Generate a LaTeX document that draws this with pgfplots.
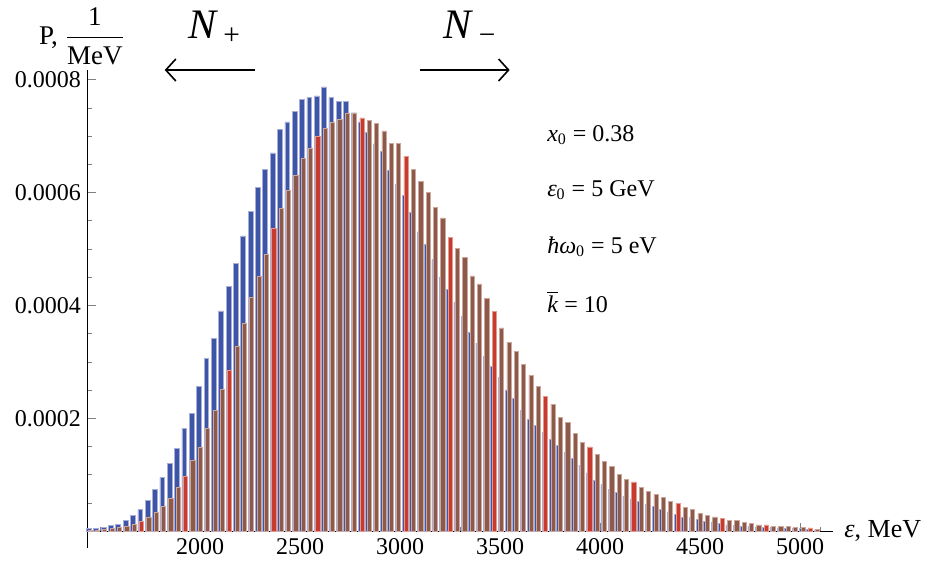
\documentclass[border=0pt]{standalone}
\usepackage{fontspec}
\setmainfont{Liberation Serif}
\usepackage{amsmath}
\usepackage{pgfplots}
\usepackage{pgfplotstable}
\pgfplotsset{compat=1.18}
\usetikzlibrary{arrows.meta}
\definecolor{cblue}{HTML}{3C55A6}
\definecolor{cblueE}{HTML}{A9AED8}
\definecolor{cbrown}{HTML}{8C5A4B}
\definecolor{cbrownE}{HTML}{CDA79C}
\definecolor{cred}{HTML}{C93A2E}
\definecolor{credE}{HTML}{E39A8C}

% E (MeV), blue P, red P, pure = red bar not covered by blue in the render
\pgfplotstableread{
E B R pure
1450.0 0.000004 0.0000005 0
1486.8 0.000004 0.000001 0
1523.5 0.0000065 0.000003 0
1560.3 0.0000095 0.000004 0
1597.0 0.000012 0.000007 0
1633.8 0.0000195 0.000009 0
1670.5 0.000028 0.000012 0
1707.3 0.000038 0.0000165 1
1744.0 0.000055 0.000025 0
1780.8 0.000074 0.000034 0
1817.5 0.000095 0.000044 0
1854.3 0.00012 0.000058 0
1891.0 0.000146 0.0000767 0
1927.8 0.000182 0.0000974 1
1964.5 0.000209 0.000126 0
2001.3 0.000257 0.000149 0
2038.0 0.000306 0.000182 0
2074.8 0.000341 0.000214 0
2111.5 0.00039 0.000251 0
2148.3 0.000434 0.000285 1
2185.0 0.000474 0.000328 0
2221.8 0.000523 0.000368 0
2258.5 0.000567 0.000415 0
2295.3 0.000609 0.000452 0
2332.0 0.000641 0.00049 0
2368.8 0.00067 0.000536 1
2405.5 0.000712 0.000572 0
2442.3 0.000725 0.000604 0
2479.0 0.000743 0.000631 0
2515.8 0.000765 0.00066 0
2552.5 0.000768 0.000679 0
2589.3 0.000771 0.0007 1
2626.0 0.000787 0.000714 0
2662.8 0.000768 0.000725 0
2699.5 0.000762 0.000729 0
2736.3 0.000762 0.000741 0
2773.0 0.000741 0.000741 0
2809.8 0.000725 0.000732 1
2846.5 0.000707 0.000728 0
2883.3 0.000686 0.000722 0
2920.0 0.000672 0.000709 0
2956.8 0.00064 0.000687 0
2993.5 0.000615 0.000687 0
3030.3 0.000595 0.000664 1
3067.0 0.000565 0.000641 0
3103.8 0.00053 0.000619 0
3140.5 0.000508 0.0006 0
3177.3 0.000481 0.000573 0
3214.0 0.000449 0.000555 0
3250.8 0.000428 0.000521 1
3287.5 0.000405 0.000501 0
3324.3 0.00038 0.000485 0
3361.0 0.000352 0.000452 0
3397.8 0.000333 0.000438 0
3434.5 0.000309 0.000412 0
3471.3 0.000292 0.000389 1
3508.0 0.000272 0.00036 0
3544.8 0.00025 0.000335 0
3581.5 0.000235 0.000319 0
3618.3 0.000214 0.000295 0
3655.0 0.000198 0.000276 0
3691.8 0.000187 0.000257 0
3728.5 0.000175 0.000238 1
3765.3 0.000163 0.000225 0
3802.0 0.000152 0.000202 0
3838.8 0.00014 0.000193 0
3875.5 0.000129 0.000173 0
3912.3 0.000117 0.000157 0
3949.0 0.000103 0.000149 1
3985.8 0.00009 0.000136 0
4022.5 0.000082 0.000123 0
4059.3 0.000074 0.000114 0
4096.0 0.000068 0.0001 0
4132.8 0.000062 0.000092 0
4169.5 0.000057 0.000087 1
4206.3 0.000052 0.000078 0
4243.0 0.000047 0.000071 0
4279.8 0.000044 0.000065 0
4316.5 0.000038 0.000059 0
4353.3 0.000034 0.000052 0
4390.0 0.00003 0.000049 1
4426.8 0.000025 0.000042 0
4463.5 0.000024 0.000038 0
4500.3 0.00002 0.000031 0
4537.0 0.000017 0.000028 0
4573.8 0.000016 0.000025 0
4610.5 0.000013 0.000022 1
4647.3 0.000011 0.000019 0
4684.0 0.00001 0.000019 0
4720.8 0.0000085 0.000016 0
4757.5 0.0000085 0.000014 0
4794.3 0.000007 0.000011 0
4831.0 0.0000065 0.000011 1
4867.8 0.000006 0.0000089 0
4904.5 0.0000055 0.0000083 0
4941.3 0.000005 0.0000083 0
4978.0 0.0000045 0.000007 0
5014.8 0.000004 0.000006 0
5051.5 0.0000035 0.0000055 1
5088.3 0.000002 0.000003 0
}\spec

\begin{document}
\begin{tikzpicture}
\useasboundingbox (-44pt,-7.5pt) rectangle (426pt,274pt);
\begin{axis}[
  scale only axis, width=372.5pt, height=239pt,
  xmin=1440, xmax=5165, ymin=-0.00003, ymax=0.000817,
  axis x line=middle, axis y line=left,
  axis line style={-, line width=0.5pt},
  clip=false,
  tick align=inside,
  major tick length=4pt, minor tick length=2pt,
  xtick={2000,2500,...,5000},
  minor xtick={1500,1600,...,5100},
  ytick={0.0002,0.0004,0.0006,0.0008},
  minor ytick={0.00005,0.0001,0.00015,0.00025,0.0003,0.00035,0.00045,0.0005,0.00055,0.00065,0.0007,0.00075},
  scaled y ticks=false,
  yticklabel style={/pgf/number format/.cd, fixed, fixed zerofill, precision=4},
  xticklabel style={/pgf/number format/.cd, set thousands separator={}},
  /pgf/number format/assume math mode=true,
  tick label style={font=\fontsize{12}{14}\selectfont},
]
\addplot[ybar, bar width=24, bar shift=-0.6pt, fill=cblue, draw=cblueE, line width=0.35pt]
  table[x=E, y=B] {\spec};
\addplot[ybar, bar width=21, bar shift=0pt, fill=cbrown, draw=cbrownE, line width=0.35pt,
  restrict expr to domain={\thisrow{pure}}{-0.5:0.5}]
  table[x=E, y=R] {\spec};
\addplot[ybar, bar width=21, bar shift=0pt, fill=cred, draw=credE, line width=0.35pt,
  restrict expr to domain={\thisrow{pure}}{0.5:1.5}]
  table[x=E, y=R] {\spec};

\node[font=\fontsize{13.5}{15}\selectfont] at (rel axis cs:-0.008,1.071)
  {P, $\dfrac{\text{1}}{\text{MeV}}$};
\node[font=\fontsize{13}{15}\selectfont, anchor=west] at (axis cs:5165,0)
  {\,\textit{ε}, MeV};

\node[font=\fontsize{21}{24}\selectfont] at (rel axis cs:0.170,1.088)
  {\textit{N}\textsubscript{\,+}};
\node[font=\fontsize{21}{24}\selectfont] at (rel axis cs:0.513,1.088)
  {\textit{N}\textsubscript{\,−}};
\draw[line width=0.8pt, -{Straight Barb[length=5pt,width=11pt]}]
  (rel axis cs:0.224,1.0) -- (rel axis cs:0.103,1.0);
\draw[line width=0.8pt, -{Straight Barb[length=5pt,width=11pt]}]
  (rel axis cs:0.446,1.0) -- (rel axis cs:0.566,1.0);

\begin{scope}[every node/.style={font=\fontsize{12}{14}\selectfont, anchor=west}]
\node at (rel axis cs:0.607,0.864) {\textit{x}\textsubscript{0} = 0.38};
\node at (rel axis cs:0.607,0.749) {\textit{ε}\textsubscript{0} = 5 GeV};
\node at (rel axis cs:0.607,0.630) {\textit{ħω}\textsubscript{0} = 5 eV};
\node at (rel axis cs:0.607,0.515) {$\overline{\hbox{\textit{k}}}$ = 10};
\end{scope}
\end{axis}
\end{tikzpicture}
\end{document}
